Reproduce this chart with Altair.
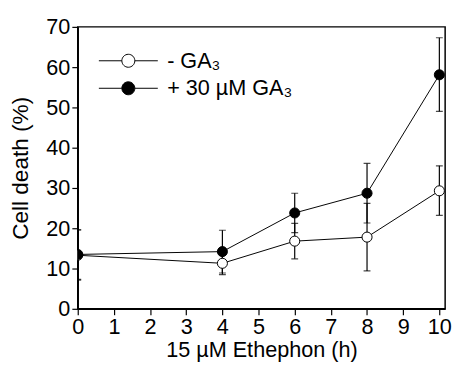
import altair as alt
import pandas as pd

hours = [0, 4, 6, 8, 10]
series_names = ["- GA₃", "+ 30 µM GA₃"]
minus_mean = [13.3, 11.3, 16.8, 17.8, 29.3]
minus_lo = [7.1, 8.5, 12.4, 9.4, 23.2]
minus_hi = [19.5, 14.1, 21.2, 26.2, 35.5]
plus_mean = [13.5, 14.2, 23.8, 28.7, 58.1]
plus_lo = [7.3, 8.9, 18.9, 21.3, 49.0]
plus_hi = [19.7, 19.5, 28.7, 36.1, 67.3]
x_ticks = list(range(0, 11))
y_ticks = list(range(0, 80, 10))

rows = []
for i, h in enumerate(hours):
    rows.append(dict(h=h, s=series_names[0], k=0, m=minus_mean[i], lo=minus_lo[i], hi=minus_hi[i]))
for i, h in enumerate(hours):
    rows.append(dict(h=h, s=series_names[1], k=1, m=plus_mean[i], lo=plus_lo[i], hi=plus_hi[i]))
df = pd.DataFrame(rows)

FONT = "Liberation Sans"

xs = alt.Scale(domain=[0, 10.16], nice=False)
ys = alt.Scale(domain=[0, 70], nice=False)

x_axis = alt.Axis(values=x_ticks, format="d", grid=False, labelOverlap=False,
                  labelFlush=False, titlePadding=3, title="15 µM Ethephon (h)")
y_axis = alt.Axis(values=y_ticks, format="d", grid=False, labelOverlap=False,
                  titleFontSize=23, titlePadding=14, title="Cell death (%)")

x = alt.X("h:Q", scale=xs, axis=x_axis)
y = alt.Y("m:Q", scale=ys, axis=y_axis)
y_lo = alt.Y("lo:Q", scale=ys, axis=y_axis)
y_hi = alt.Y("hi:Q", scale=ys, axis=y_axis)

sym_path = ("M-2.5,0H-0.55M0.55,0H2.5"
            "M0.55,0A0.55,0.55,0,1,1,-0.55,0A0.55,0.55,0,1,1,0.55,0Z")

fill = alt.Fill("s:N", scale=alt.Scale(domain=series_names, range=["white", "black"]),
                legend=alt.Legend(title=None, orient="none", legendX=39, legendY=22,
                                  symbolType=sym_path, symbolSize=576,
                                  symbolStrokeColor="black", symbolStrokeWidth=1,
                                  symbolOpacity=1,
                                  labelFont=FONT, labelFontSize=22, labelColor="black",
                                  rowPadding=4, labelOffset=27))

base = alt.Chart(df)

lines = base.mark_line(color="black", strokeWidth=1, clip=True).encode(
    x=x, y=y, detail="s:N")
rules = base.mark_rule(color="black", strokeWidth=1.2, clip=True).encode(
    x=x, y=y_lo, y2="hi:Q")
cap_lo = base.mark_tick(color="black", size=7, thickness=1.2, orient="horizontal", clip=True).encode(
    x=x, y=y_lo)
cap_hi = base.mark_tick(color="black", size=7, thickness=1.2, orient="horizontal", clip=True).encode(
    x=x, y=y_hi)
points = base.mark_point(shape="circle", size=105, stroke="black", strokeWidth=1,
                         opacity=1, filled=False, clip=True).encode(
    x=x, y=y, fill=fill, order=alt.Order("k:Q", sort="ascending"))

chart = alt.layer(rules, cap_lo, cap_hi, lines, points).properties(
    width=374, height=287,
    autosize=alt.AutoSizeParams(type="none"),
    padding={"left": 71, "top": 16, "right": 8, "bottom": 55},
).configure_view(stroke="black", strokeWidth=1.5).configure_axis(
    domainColor="black", domainWidth=1.5, tickColor="black", tickWidth=1.2, tickSize=6,
    labelFont=FONT, labelFontSize=22, labelColor="black", labelPadding=2,
    titleFont=FONT, titleFontSize=22, titleColor="black", titleFontWeight="normal",
)

chart.save("out.html", embed_options={"renderer": "svg", "actions": False})
